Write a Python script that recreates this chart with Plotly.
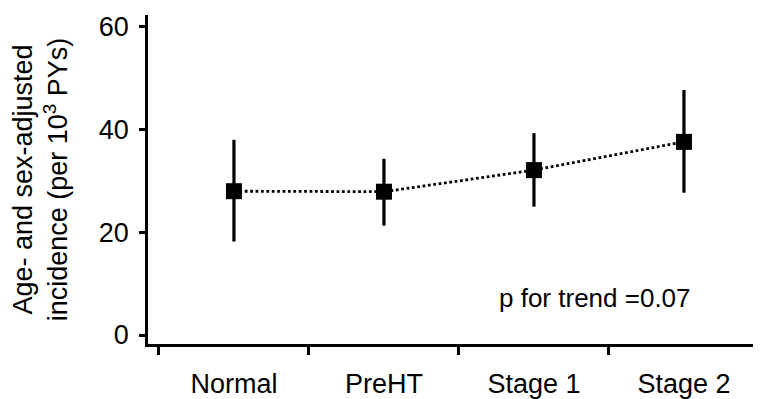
import plotly.graph_objects as go

categories = ["Normal", "PreHT", "Stage 1", "Stage 2"]
incidence = [28.0, 27.9, 32.1, 37.6]
ci_upper = [38.0, 34.3, 39.3, 47.7]
ci_lower = [18.2, 21.3, 25.0, 27.7]
y_ticks = [0, 20, 40, 60]
annotation_text = "p for trend =0.07"

err_plus = [u - v for u, v in zip(ci_upper, incidence)]
err_minus = [v - l for v, l in zip(incidence, ci_lower)]

FONT = "Liberation Sans, Arial, sans-serif"

fig = go.Figure()
fig.add_trace(go.Scatter(
    x=categories, y=incidence,
    mode="lines+markers",
    line=dict(color="black", width=2.8, dash="2.8px,2.6px"),
    marker=dict(symbol="square", size=16, color="black"),
    error_y=dict(type="data", symmetric=False, array=err_plus, arrayminus=err_minus,
                 color="black", thickness=3.2, width=0),
    showlegend=False, xaxis="x", yaxis="y",
))
# invisible trace to carry the labelled category axis
fig.add_trace(go.Scatter(
    x=categories, y=incidence, mode="markers",
    marker=dict(opacity=0), hoverinfo="skip", showlegend=False,
    xaxis="x2", yaxis="y",
))

fig.update_layout(
    template="none",
    width=761, height=399,
    margin=dict(l=140, r=9, t=7, b=63, autoexpand=False),
    plot_bgcolor="white", paper_bgcolor="white",
    font=dict(family=FONT, color="black"),
    xaxis=dict(
        type="category", categoryarray=categories, range=[-0.573, 3.507],
        showticklabels=False, ticks="", showline=False, showgrid=False, zeroline=False,
        automargin=False,
    ),
    xaxis2=dict(
        type="category", categoryarray=categories, range=[-0.573, 3.507],
        overlaying="x", side="bottom", anchor="y",
        tickson="boundaries", ticks="outside", ticklen=8, tickwidth=2.5, tickcolor="black",
        showline=True, linecolor="black", linewidth=2.5,
        showgrid=False, zeroline=False, automargin=False,
        tickfont=dict(size=27, family=FONT, color="black"),
        ticklabelstandoff=14,
    ),
    yaxis=dict(
        range=[-1.75, 62.3], tickvals=y_ticks,
        ticks="outside", ticklen=6, tickwidth=2.5, tickcolor="black",
        showline=True, linecolor="black", linewidth=2.5,
        showgrid=False, zeroline=False, automargin=False,
        tickfont=dict(size=27, family=FONT, color="black"),
        ticklabelstandoff=5,
        title=dict(text="Age- and sex-adjusted<br>incidence (per 10<sup>3</sup> PYs)",
                   font=dict(size=27, family=FONT, color="black"), standoff=31),
    ),
    annotations=[dict(
        text=annotation_text, xref="paper", yref="paper", x=0.730, y=0.14,
        showarrow=False, font=dict(size=26, family=FONT, color="black"),
        xanchor="center", yanchor="middle",
    )],
)

fig.write_html("out.html")
